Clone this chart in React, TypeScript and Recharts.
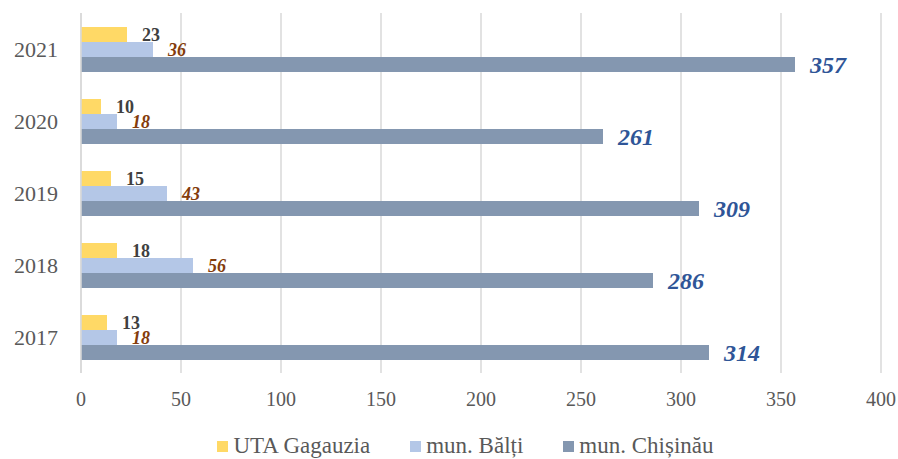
import React from "react";
import { BarChart, Bar, XAxis, YAxis, CartesianGrid, Legend, LabelList } from "recharts";

const years = ["2021", "2020", "2019", "2018", "2017"];
const gagauzia = [23, 10, 15, 18, 13];
const balti = [36, 18, 43, 56, 18];
const chisinau = [357, 261, 309, 286, 314];
const xTicks = [0, 50, 100, 150, 200, 250, 300, 350, 400];

const seriesNames = ["UTA Gagauzia", "mun. Bălți", "mun. Chișinău"];
const seriesColors = ["#FFD966", "#B4C7E7", "#8497B0"];

const data = years.map((y, i) => ({
  year: y,
  g: gagauzia[i],
  b: balti[i],
  c: chisinau[i],
}));

const FONT = "'Liberation Serif', 'Times New Roman', serif";

const makeLabel = (color: string, size: number, italic: boolean) => (props: any) => {
  const { x, y, width, height, value } = props;
  return (
    <text
      x={Number(x) + Number(width) + 15}
      y={Number(y) + Number(height) / 2}
      dominantBaseline="central"
      fill={color}
      fontSize={size}
      fontWeight="bold"
      fontStyle={italic ? "italic" : "normal"}
      fontFamily={FONT}
    >
      {value}
    </text>
  );
};

const LegendContent = () => (
  <div
    style={{
      display: "flex",
      justifyContent: "center",
      alignItems: "center",
      paddingLeft: 50,
      paddingTop: 11,
      fontFamily: FONT,
      fontSize: 23,
      color: "#595959",
    }}
  >
    {seriesNames.map((n, i) => (
      <div key={n} style={{ display: "flex", alignItems: "center", marginLeft: i === 0 ? 0 : 40 }}>
        <div style={{ width: 11, height: 11, background: seriesColors[i], marginRight: 5 }} />
        <span style={{ lineHeight: "24px", fontFamily: FONT }}>{n}</span>
      </div>
    ))}
  </div>
);

export default function App() {
  return (
    <div style={{ position: "absolute", left: 0, top: 0, width: 898, height: 459, background: "#fff", fontFamily: FONT }}>
      <BarChart
        width={898}
        height={459}
        data={data}
        layout="vertical"
        margin={{ top: 13, right: 17, bottom: 0, left: 0 }}
        barCategoryGap={14}
        barGap={0}
        style={{ fontFamily: FONT }}
      >
        <CartesianGrid horizontal={false} stroke="#D9D9D9" strokeWidth={1.5} />
        <XAxis
          type="number"
          domain={[0, 400]}
          ticks={xTicks}
          axisLine={false}
          tickLine={false}
          tickSize={0}
          tickMargin={19}
          height={50}
          tick={{ fill: "#595959", fontSize: 20, fontFamily: FONT }}
        />
        <YAxis
          type="category"
          dataKey="year"
          width={81}
          axisLine={{ stroke: "#D9D9D9", strokeWidth: 1.5 }}
          tickLine={false}
          tickSize={0}
          tickMargin={23}
          tick={{ fill: "#595959", fontSize: 22, fontFamily: FONT }}
        />
        <Legend verticalAlign="bottom" height={36} content={<LegendContent />} />
        <Bar dataKey="g" name={seriesNames[0]} fill={seriesColors[0]} isAnimationActive={false}>
          <LabelList dataKey="g" content={makeLabel("#404040", 18, false)} />
        </Bar>
        <Bar dataKey="b" name={seriesNames[1]} fill={seriesColors[1]} isAnimationActive={false}>
          <LabelList dataKey="b" content={makeLabel("#843C0C", 18, true)} />
        </Bar>
        <Bar dataKey="c" name={seriesNames[2]} fill={seriesColors[2]} isAnimationActive={false}>
          <LabelList dataKey="c" content={makeLabel("#2F5597", 24, true)} />
        </Bar>
      </BarChart>
    </div>
  );
}
